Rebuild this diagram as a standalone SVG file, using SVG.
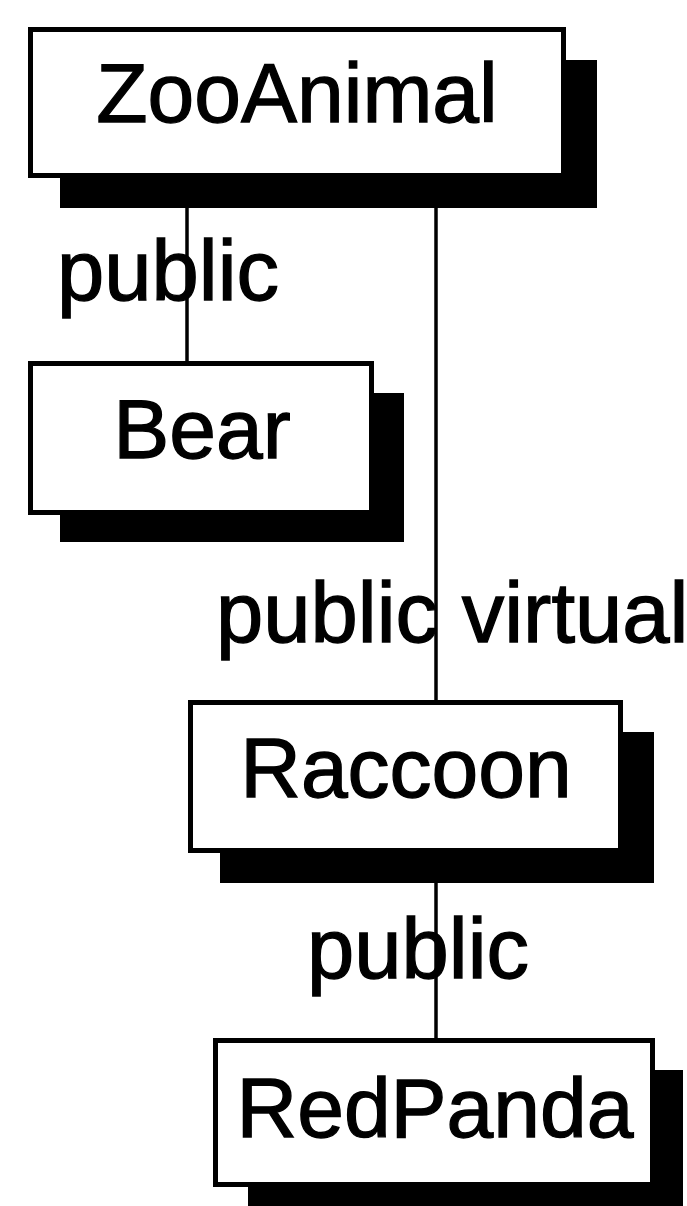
<svg xmlns="http://www.w3.org/2000/svg" width="687" height="1206" viewBox="0 0 687 1206">
  <style>
    .box { fill: #ffffff; stroke: #000000; stroke-width: 5; }
    .shadow { fill: #000000; stroke: none; }
    .conn { stroke: #000000; stroke-width: 3.5; fill: none; }
    .name { font-family: "Liberation Sans", Arial, sans-serif; font-size: 84px; fill: #000000; stroke: #000000; stroke-width: 1.3; text-anchor: middle; }
    .label { font-family: "Liberation Sans", Arial, sans-serif; font-size: 85px; fill: #000000; stroke: #000000; stroke-width: 1.3; }
  </style>
  <rect x="0" y="0" width="687" height="1206" fill="#ffffff"/>
  <g id="connectors">
    <line class="conn" x1="187" y1="200" x2="187" y2="362"/>
    <line class="conn" x1="436" y1="200" x2="436" y2="701"/>
    <line class="conn" x1="436" y1="870" x2="436" y2="1039"/>
    <text class="label" x="57" y="300">public</text>
    <text class="label" x="216" y="642">public virtual</text>
    <text class="label" x="307" y="978">public</text>
  </g>
  <g id="node-zooanimal">
    <rect class="shadow" x="60" y="60" width="537" height="148"/>
    <rect class="box" x="30.5" y="29.5" width="533" height="146"/>
    <text class="name" x="297" y="122">ZooAnimal</text>
  </g>
  <g id="node-bear">
    <rect class="shadow" x="60" y="393" width="344" height="149"/>
    <rect class="box" x="30.5" y="363.5" width="341" height="149"/>
    <text class="name" x="202" y="458">Bear</text>
  </g>
  <g id="node-raccoon">
    <rect class="shadow" x="220" y="732" width="434" height="151"/>
    <rect class="box" x="190.5" y="702.5" width="430" height="148"/>
    <text class="name" x="406" y="797">Raccoon</text>
  </g>
  <g id="node-redpanda">
    <rect class="shadow" x="248" y="1070" width="435" height="150"/>
    <rect class="box" x="215.5" y="1040.5" width="437" height="144"/>
    <text class="name" x="435" y="1137">RedPanda</text>
  </g>
</svg>
